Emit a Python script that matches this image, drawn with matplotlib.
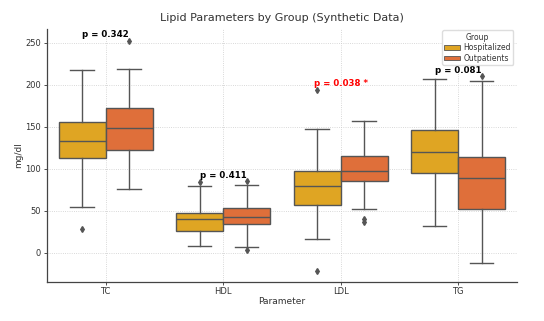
import numpy as np
import matplotlib.pyplot as plt
from matplotlib.patches import Patch

# values (mg/dl)
params = ['TC', 'HDL', 'LDL', 'TG']
groups = ['Hospitalized', 'Outpatients']

hosp_q1 = [113, 26, 57, 95]
hosp_med = [133, 40, 80, 120]
hosp_q3 = [156, 47, 98, 146]
hosp_lo = [55, 8, 16, 32]
hosp_hi = [217, 80, 147, 207]
hosp_fliers = [[28], [84], [194, -21], []]

out_q1 = [122, 34, 85, 52]
out_med = [149, 43, 97, 89]
out_q3 = [172, 54, 115, 114]
out_lo = [76, 7, 52, -12]
out_hi = [219, 81, 157, 205]
out_fliers = [[252], [85, 3], [37, 40], [210]]

p_labels = ['p = 0.342', 'p = 0.411', 'p = 0.038 *', 'p = 0.081']
p_signif = [False, False, True, False]

col_hosp = '#DFA523'
col_out = '#DF6F3A'
edge = '#555555'

fig = plt.figure(figsize=(5.44, 3.21), dpi=100)
ax = fig.add_axes([0.086, 0.123, 0.864, 0.786])

width = 0.4
x = np.arange(len(params))


def stats(q1, med, q3, lo, hi, fl):
    return [dict(q1=a, med=b, q3=c, whislo=d, whishi=e, fliers=f)
            for a, b, c, d, e, f in zip(q1, med, q3, lo, hi, fl)]


for st, off, col in [(stats(hosp_q1, hosp_med, hosp_q3, hosp_lo, hosp_hi, hosp_fliers), -width / 2, col_hosp),
                     (stats(out_q1, out_med, out_q3, out_lo, out_hi, out_fliers), width / 2, col_out)]:
    ax.bxp(st, positions=x + off, widths=width, patch_artist=True,
           boxprops=dict(facecolor=col, edgecolor=edge, linewidth=1.0),
           medianprops=dict(color=edge, linewidth=1.0),
           whiskerprops=dict(color=edge, linewidth=1.0),
           capprops=dict(color=edge, linewidth=1.0),
           capwidths=width / 2,
           flierprops=dict(marker='d', markersize=3, markerfacecolor=edge,
                           markeredgecolor=edge))

# p-value labels above the highest point of each parameter
for i in range(len(params)):
    top = max([hosp_hi[i], out_hi[i]] + hosp_fliers[i] + out_fliers[i])
    ax.text(x[i], top + 2, p_labels[i], ha='center', va='bottom',
            fontsize=6.2, fontweight='bold',
            color='red' if p_signif[i] else 'black', zorder=5)

ax.set_xlim(-0.5, 3.5)
ax.set_ylim(-34, 266)
ax.set_xticks(x)
ax.set_xticklabels(params)
ax.set_yticks([0, 50, 100, 150, 200, 250])
ax.tick_params(labelsize=6, colors='#333333', length=2, width=0.6, pad=2)
ax.grid(True, linestyle=':', color='#cccccc', linewidth=0.6)
ax.set_axisbelow(True)
for s in ['top', 'right']:
    ax.spines[s].set_visible(False)
for s in ['left', 'bottom']:
    ax.spines[s].set_color('#444444')
    ax.spines[s].set_linewidth(0.9)

ax.set_xlabel('Parameter', fontsize=6.5, color='#333333', labelpad=1)
ax.set_ylabel('mg/dl', fontsize=6.5, color='#333333', labelpad=2)
ax.set_title('Lipid Parameters by Group (Synthetic Data)', fontsize=8, color='#333333', pad=6)

handles = [Patch(facecolor=col_hosp, edgecolor=edge, linewidth=0.6),
           Patch(facecolor=col_out, edgecolor=edge, linewidth=0.6)]
leg = ax.legend(handles, groups, title='Group', loc='upper right',
                bbox_to_anchor=(0.995, 1.0), fontsize=5.5, title_fontsize=5.5,
                handlelength=2.0, handleheight=0.6, borderpad=0.3,
                labelspacing=0.2, handletextpad=0.5, borderaxespad=0.15,
                framealpha=1, edgecolor='#dddddd')
for t in leg.get_texts():
    t.set_color('#333333')
leg.get_title().set_color('#333333')

fig.savefig('out.png', dpi=100)
